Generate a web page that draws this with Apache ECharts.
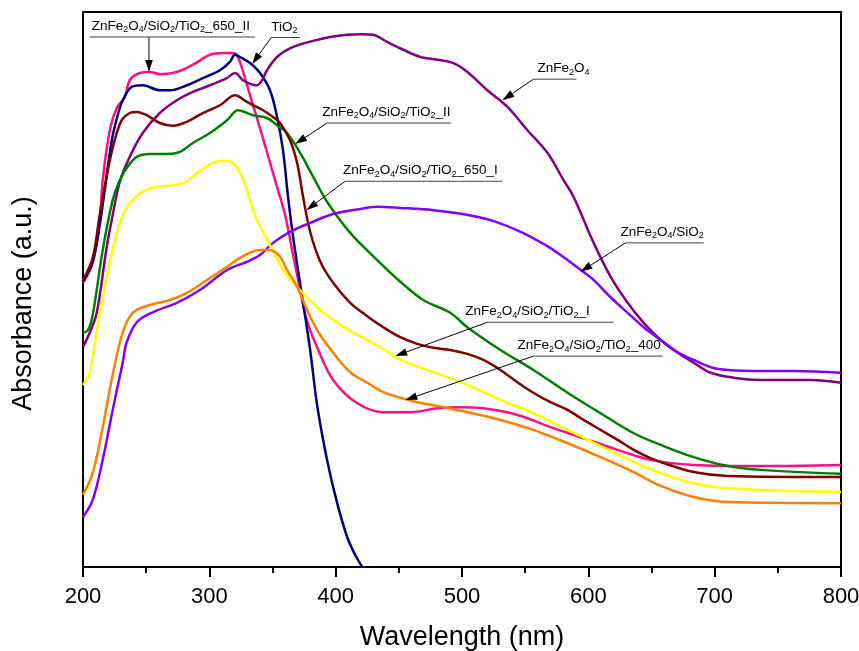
<!DOCTYPE html>
<html>
<head>
<meta charset="utf-8">
<script src="https://cdn.jsdelivr.net/npm/echarts@6/dist/echarts.min.js"></script>
<style>
html,body{margin:0;padding:0;background:#fff;}
#chart{width:859px;height:651px;}
</style>
</head>
<body>
<div id="chart"></div>
<script>
// ---- Data (wavelength nm, absorbance a.u. on 0-100 scale) ----
const seriesNames = [
  'ZnFe2O4/SiO2/TiO2_650_II', 'TiO2', 'ZnFe2O4', 'ZnFe2O4/SiO2/TiO2_II',
  'ZnFe2O4/SiO2/TiO2_650_I', 'ZnFe2O4/SiO2', 'ZnFe2O4/SiO2/TiO2_I', 'ZnFe2O4/SiO2/TiO2_400'
];

const znfeSiTi650II = [[200,51.2],[207.7,54.8],[213.2,62.2],[215.6,69.7],[221.2,78.7],[226.7,82.7],[233.1,84.7],[237,87.7],[244.9,89.0],[252.9,89.2],[260.8,88.8],[274.3,89.2],[287,90.5],[300.5,92.3],[310.8,92.6],[318.7,92.6],[322.7,91.9],[332.2,85.0],[341.7,77.8],[352,69.7],[360,63.4],[366.3,56.2],[371.9,49.9],[376.6,44.9],[385.3,39.6],[398,33.7],[417.1,29.5],[437.7,27.9],[459.1,27.9],[480.5,28.6],[498.7,28.8],[517,28.6],[544,27.4],[570,25.2],[596.2,23.2],[623.2,21.1],[649.3,19.3],[683.4,18.4],[736.5,18.2],[800,18.4]];

const tio2 = [[200,51.4],[207.7,55.0],[213.2,61.6],[217.2,67.9],[222.8,76.9],[227.5,81.4],[231.5,84.1],[238.6,86.5],[247.3,86.8],[260.8,85.9],[268.7,85.9],[282.2,86.8],[294.9,88.1],[308.4,89.5],[316.3,91.0],[320.3,92.3],[325.8,91.7],[332.2,90.8],[340.1,89.0],[348,85.9],[353.6,81.1],[358.3,75.1],[362.3,66.7],[366.3,59.5],[371.8,51.2],[379.8,39.1],[385.3,29.2],[393.2,19.3],[401.2,11.5],[409.1,5.4],[415.4,2.2],[421,0]];

const znfe = [[200,39.6],[205.3,42.2],[210.9,45.8],[218.8,57.7],[223.5,63.4],[229.1,69.4],[237,73.9],[247.3,78.2],[260.8,81.8],[274.3,84.1],[287,85.6],[300.5,86.8],[313.9,88.1],[320.3,89.0],[326.6,87.7],[333,87.0],[337.7,86.8],[341.7,87.7],[345.6,89.5],[353.6,91.9],[366.3,93.7],[382.2,94.8],[395.6,95.5],[409.1,95.9],[421.8,96.0],[429.7,95.9],[440.8,94.6],[453.5,93.2],[467,91.9],[480.5,91.4],[493.2,90.8],[504.3,89.2],[520.1,85.9],[536,82.9],[551.8,78.7],[567.7,74.6],[580.4,69.7],[588.3,66.7],[604.2,58.4],[617.6,52.3],[631.1,47.6],[643.8,44.0],[657.3,40.9],[670.7,38.6],[683.4,36.8],[696.9,35.0],[715.1,34.1],[736.5,33.7],[776.2,33.7],[800,33.2]];

const znfeSiTiII = [[200,42.2],[204,42.7],[207.7,45.4],[215.6,57.1],[223.5,66.1],[229.1,69.7],[234.6,71.9],[242.6,73.9],[252.9,74.4],[266.4,74.4],[276.7,74.8],[287,76.4],[300.5,78.2],[314,80.5],[322.7,82.3],[334.6,81.4],[345.6,80.9],[353.6,79.6],[361.5,78.2],[371.9,74.6],[382.2,70.3],[393.2,65.8],[411.5,60.2],[432.9,55.3],[451.2,51.4],[469.4,48.1],[490.7,45.8],[504.2,43.2],[530.4,39.1],[556.5,35.5],[583.5,31.4],[609.7,27.7],[635.9,24.1],[657.3,22.0],[683.4,19.8],[710.4,18.2],[736.5,17.5],[800,16.8]];

const znfeSiTi650I = [[200,51.7],[207.7,55.7],[213.2,63.4],[219.6,71.5],[225.1,76.9],[230.7,80.5],[237,81.8],[242.6,82.0],[250.5,81.4],[260.8,80.0],[271.1,79.5],[282.2,80.2],[294.9,81.8],[308.4,83.2],[320.3,85.0],[329.8,83.8],[342.5,82.3],[350.4,81.1],[356,80.0],[363.9,76.9],[369.5,72.8],[374.2,66.7],[379.8,60.4],[387.7,55.1],[398,51.2],[411.5,47.6],[425,45.2],[437.7,43.2],[451.2,41.4],[464.6,40.2],[477.3,39.5],[490.7,39.1],[504.2,38.4],[516.9,37.3],[530.4,35.5],[543.8,33.3],[556.5,31.4],[570,29.7],[583.5,28.3],[596.2,26.5],[609.7,24.7],[623.2,22.9],[635.9,21.1],[649.3,19.6],[657.3,18.9],[683.4,17.1],[710.4,16.4],[800,16.2]];

const znfeSi = [[200,9.0],[207.7,12.1],[215.6,19.3],[223.5,28.3],[231.5,36.9],[234.6,40.5],[242.6,44.1],[255.3,45.9],[274.3,47.6],[292.5,49.9],[313.9,53.5],[329.8,55.0],[340.1,56.2],[350.4,58.4],[363.9,60.4],[379.8,62.0],[398,63.6],[419.5,64.5],[432.9,64.9],[451.2,64.7],[477.4,64.3],[500.4,63.6],[522.6,62.5],[546.4,60.4],[566.2,58.0],[578.1,56.2],[594,53.5],[604.3,51.7],[617.6,48.6],[631.1,45.8],[643.8,43.2],[657.3,40.9],[670.7,38.7],[683.4,37.3],[696.9,36.0],[710.4,35.5],[736.5,35.3],[762.7,35.3],[800,35.0]];

const znfeSiTiI = [[200,32.8],[205.3,35.0],[213.2,45.8],[221.2,54.8],[229.1,62.0],[237,65.6],[247.3,67.6],[258.4,68.5],[271.1,68.8],[282.2,69.5],[290.1,71.0],[302.8,72.8],[310.8,73.2],[318.7,72.8],[324.3,71.0],[329.8,67.9],[334.6,64.3],[340.1,61.3],[348,58.0],[358.3,53.5],[371.8,49.9],[385.3,46.8],[398,44.5],[411.5,42.5],[425,40.9],[437.7,39.3],[451.2,37.3],[477.3,35.1],[504.2,32.8],[530.4,30.1],[556.5,27.7],[583.5,24.7],[609.7,21.8],[635.9,18.9],[657.3,16.9],[683.4,15.1],[710.4,14.2],[800,13.5]];

const znfeSiTi400 = [[200,13.0],[207.7,16.9],[215.6,25.2],[223.5,34.6],[231.5,42.3],[239.4,45.8],[252.9,47.2],[268.7,48.1],[282.2,49.4],[298.1,51.7],[314,54.1],[326.7,56.0],[340.1,57.1],[348,57.1],[356,55.9],[361.5,53.5],[369.5,50.5],[377.4,46.3],[385.3,42.7],[398,38.6],[411.5,35.1],[425,33.2],[437.7,31.5],[451.2,30.5],[464.6,29.7],[480.5,29.0],[504.2,27.9],[530.4,26.5],[556.5,24.7],[583.5,22.3],[609.7,19.8],[635.9,17.1],[657.3,14.6],[683.4,12.6],[710.4,11.7],[800,11.5]];

const seriesData = [znfeSiTi650II, tio2, znfe, znfeSiTiII, znfeSiTi650I, znfeSi, znfeSiTiI, znfeSiTi400];
const seriesColors = ['#FF1080', '#000080', '#800080', '#008000', '#800000', '#8000FF', '#FFFF00', '#FF8000'];

// ---- Annotations (data coordinates) ----
const annLabels = seriesNames;
const annTextX   = [206.9, 349.0, 559.7, 389.3, 405.9, 625.5, 502.6, 543.9];
const annLineX1  = [205.3, 349.0, 556.6, 393.2, 407.5, 629.4, 520.1, 556.6];
const annLineX2  = [336.1, 372.0, 590.6, 491.5, 531.9, 691.3, 620.0, 658.9];
const annLineY   = [95.5, 95.4, 87.9, 80.0, 69.5, 58.4, 44.1, 38.0];
const annFromX   = [252.2, 349.0, 556.6, 393.2, 407.5, 629.4, 520.1, 556.6];
const annTipX    = [252.2, 333.8, 532.0, 367.9, 376.8, 593.8, 447.1, 455.1];
const annTipY    = [89.2, 90.6, 84.1, 76.2, 64.3, 53.2, 38.0, 30.1];

const FONT = '"Liberation Sans", Arial, Helvetica, sans-serif';

function richLabel(s) {
  let out = '';
  let buf = '';
  for (let i = 0; i < s.length; i++) {
    const c = s[i];
    const prev = i > 0 ? s[i - 1] : '';
    if (/[0-9]/.test(c) && /[A-Za-z]/.test(prev)) {
      if (buf) { out += '{a|' + buf + '}'; buf = ''; }
      out += '{s|' + c + '}';
    } else {
      buf += c;
    }
  }
  if (buf) out += '{a|' + buf + '}';
  return out;
}

const chart = echarts.init(document.getElementById('chart'), null, {renderer: 'canvas'});

const option = {
  animation: false,
  backgroundColor: '#fff',
  grid: { left: 83, right: 18, top: 12, bottom: 84, show: true, borderColor: '#000', borderWidth: 2, backgroundColor: 'transparent', containLabel: false, outerBoundsMode: 'none' },
  xAxis: {
    type: 'value', min: 200, max: 800, interval: 100,
    name: 'Wavelength (nm)', nameLocation: 'middle', nameGap: 57,
    nameTextStyle: { fontFamily: FONT, fontSize: 27, color: '#000' },
    axisLine: { show: true, lineStyle: { color: '#000', width: 2 } },
    axisTick: { show: true, inside: false, length: 10, lineStyle: { color: '#000', width: 2 } },
    minorTick: { show: true, splitNumber: 2, length: 6, lineStyle: { color: '#000', width: 2 } },
    axisLabel: { fontFamily: FONT, fontSize: 22, color: '#000', margin: 19 },
    splitLine: { show: false }
  },
  yAxis: {
    type: 'value', min: 0, max: 100,
    name: 'Absorbance (a.u.)', nameLocation: 'middle', nameGap: 46,
    nameTextStyle: { fontFamily: FONT, fontSize: 27, color: '#000', padding: [0, 28, 0, 0] },
    axisLine: { show: true, lineStyle: { color: '#000', width: 2 } },
    axisTick: { show: false },
    axisLabel: { show: false },
    splitLine: { show: false }
  },
  series: seriesData.map((d, i) => ({
    name: seriesNames[i],
    type: 'line',
    data: d,
    showSymbol: false,
    smooth: 0.35,
    clip: true,
    lineStyle: { color: seriesColors[i], width: 2.5 },
    itemStyle: { color: seriesColors[i] },
    z: 2 + i
  }))
};
chart.setOption(option);

// annotations: labels with underline and arrow
const graphics = [];
const toPx = (x, y) => chart.convertToPixel({ gridIndex: 0 }, [x, y]);
for (let i = 0; i < annLabels.length; i++) {
  const l1 = toPx(annLineX1[i], annLineY[i]);
  const l2 = toPx(annLineX2[i], annLineY[i]);
  const t = toPx(annTextX[i], annLineY[i]);
  const p0 = toPx(annFromX[i], annLineY[i]);
  const p1 = toPx(annTipX[i], annTipY[i]);
  graphics.push({
    type: 'line', z: 100,
    shape: { x1: l1[0], y1: l1[1], x2: l2[0], y2: l2[1] },
    style: { stroke: '#444', lineWidth: 1 }
  });
  const dx = p1[0] - p0[0], dy = p1[1] - p0[1];
  const len = Math.sqrt(dx * dx + dy * dy);
  const ux = dx / len, uy = dy / len;
  const L = 12, W = 3.8;
  const bx = p1[0] - ux * L, by = p1[1] - uy * L;
  graphics.push({
    type: 'line', z: 100,
    shape: { x1: p0[0], y1: p0[1], x2: bx, y2: by },
    style: { stroke: '#000', lineWidth: 1 }
  });
  graphics.push({
    type: 'polygon', z: 100,
    shape: { points: [[p1[0], p1[1]], [bx - uy * W, by + ux * W], [bx + uy * W, by - ux * W]] },
    style: { fill: '#000' }
  });
  graphics.push({
    type: 'text', z: 100,
    x: t[0], y: t[1] - 2.5,
    style: {
      text: richLabel(annLabels[i]),
      align: 'left', verticalAlign: 'bottom',
      fill: '#000',
      rich: {
        a: { fontFamily: FONT, fontSize: 13.5, lineHeight: 16, verticalAlign: 'middle', fill: '#000', color: '#000' },
        s: { fontFamily: FONT, fontSize: 9, lineHeight: 9, verticalAlign: 'bottom', fill: '#000', color: '#000' }
      }
    }
  });
}
chart.setOption({ graphic: graphics });
</script>
</body>
</html>
